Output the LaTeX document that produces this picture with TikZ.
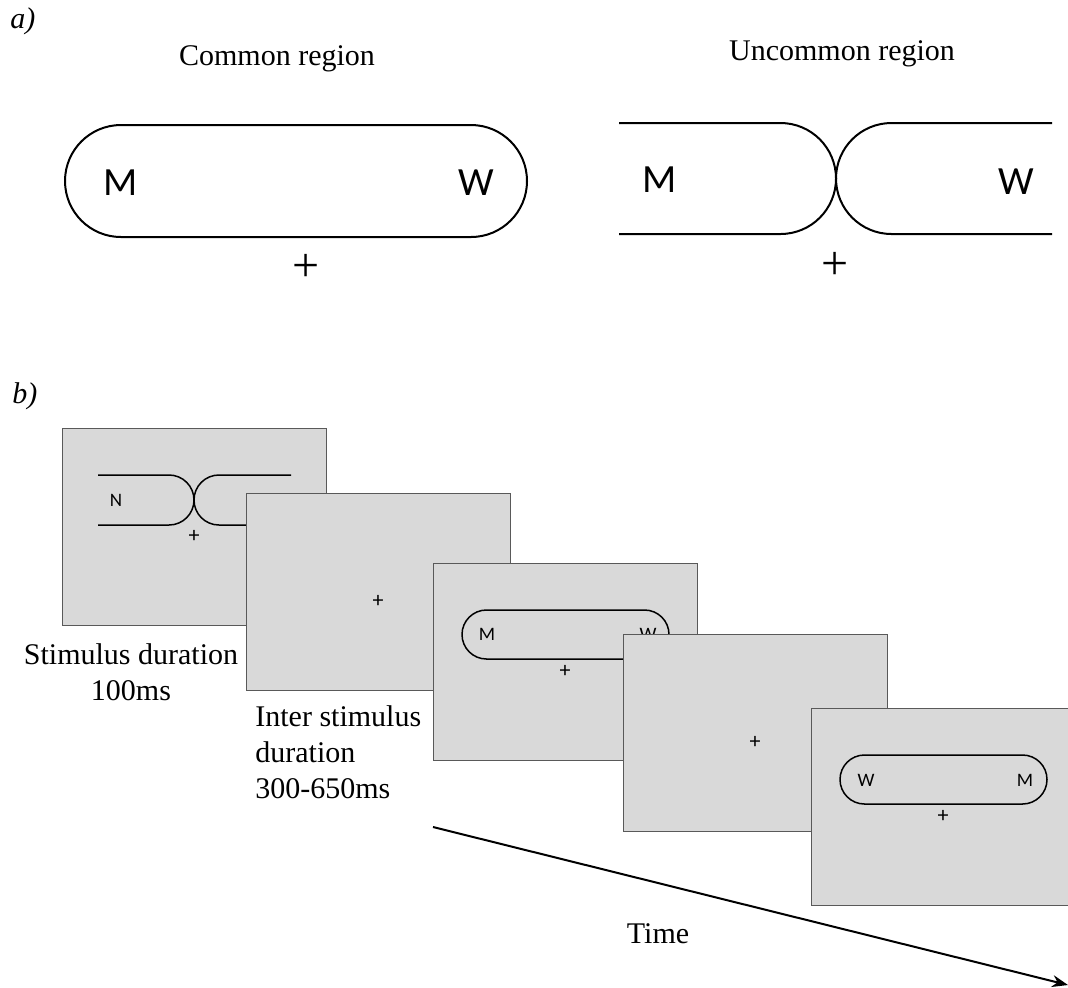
\documentclass[tikz,border=0pt]{standalone}
\usepackage{fontspec}
\setmainfont{Liberation Serif}
\newfontfamily\letterfont{Carlito}
\usetikzlibrary{arrows.meta}

\definecolor{panelgray}{HTML}{D9D9D9}
\definecolor{panelline}{HTML}{595959}

\tikzset{
  textlabel/.style={font=\fontsize{15}{18}\selectfont, inner sep=0pt},
  bigletter/.style={font=\letterfont\fontsize{20}{24}\selectfont, inner sep=0pt},
  smallletter/.style={font=\letterfont\fontsize{9.5}{11}\selectfont, inner sep=0pt},
  bigcross/.style={font=\fontsize{24}{24}\selectfont, inner sep=0pt},
  smallcross/.style={font=\letterfont\fontsize{11}{11}\selectfont, inner sep=0pt},
  screen/.style={draw=panelline, fill=panelgray, line width=0.6pt, anchor=north west,
    minimum width=132pt, minimum height=98.5pt, inner sep=0pt},
  region/.style={line width=1pt},
  smallregion/.style={line width=0.75pt},
}

\begin{document}
\begin{tikzpicture}[x=0.5pt, y=-0.5pt, >={Stealth[length=8pt, width=6pt]}]
    \useasboundingbox (0,0) rectangle (1068,987);

    % part a
    \node[textlabel, anchor=base west, font=\fontsize{15}{18}\selectfont\itshape] (parta) at (10,28) {a)};
    \node[textlabel, anchor=base] (common) at (277,65) {Common region};
    \node[textlabel, anchor=base] (uncommon) at (842,60) {Uncommon region};

    \draw[region, rounded corners=28pt] (65,125) rectangle (527,237);
    \node[bigletter] (cm) at (121,183) {M};
    \node[bigletter] (cw) at (476,183) {W};
    \node[bigcross] (cfix) at (306,268) {+};

    \draw[region] (619,123) -- (780.5,123) arc[start angle=90, end angle=-90, radius=27.75pt] -- (619,234);
    \draw[region] (1052,123) -- (891.5,123) arc[start angle=90, end angle=270, radius=27.75pt] -- (1052,234);
    \node[bigletter] (um) at (660,180) {M};
    \node[bigletter] (uw) at (1016,182) {W};
    \node[bigcross] (ufix) at (835,266) {+};

    % part b
    \node[textlabel, anchor=base west, font=\fontsize{15}{18}\selectfont\itshape] (partb) at (12,403) {b)};

    % screen 1: uncommon region
    \begin{scope}[shift={(62,428)}]
        \node[screen] (s1) at (0,0) {};
        \draw[smallregion] (36,47) -- (107,47) arc[start angle=90, end angle=-90, radius=12.5pt] -- (36,97);
        \draw[smallregion] (229,47) -- (157,47) arc[start angle=90, end angle=270, radius=12.5pt] -- (229,97);
        \node[smallletter] (s1n) at (54,72) {N};
        \node[smallletter] (s1w) at (215,72) {W};
        \node[smallcross] (s1fix) at (132,108) {+};
    \end{scope}

    % screen 2: blank
    \begin{scope}[shift={(246,493)}]
        \node[screen] (s2) at (0,0) {};
        \node[smallcross] (s2fix) at (132,108) {+};
    \end{scope}

    % screen 3: common region
    \begin{scope}[shift={(433,563)}]
        \node[screen] (s3) at (0,0) {};
        \draw[smallregion, rounded corners=12.25pt] (29,47) rectangle (236,96);
        \node[smallletter] (s3m) at (54,71) {M};
        \node[smallletter] (s3w) at (215,71) {W};
        \node[smallcross] (s3fix) at (132,108) {+};
    \end{scope}

    % screen 4: blank
    \begin{scope}[shift={(623,634)}]
        \node[screen] (s4) at (0,0) {};
        \node[smallcross] (s4fix) at (132,108) {+};
    \end{scope}

    % screen 5: common region, swapped
    \begin{scope}[shift={(811,708)}]
        \node[screen] (s5) at (0,0) {};
        \draw[smallregion, rounded corners=12.25pt] (29,47) rectangle (236,96);
        \node[smallletter] (s5w) at (55,72) {W};
        \node[smallletter] (s5m) at (214,72) {M};
        \node[smallcross] (s5fix) at (132,108) {+};
    \end{scope}

    \node[textlabel, align=center, anchor=base] (stimdur) at (131,700) {Stimulus duration\\100ms};
    \node[textlabel, align=left, anchor=north west] (isidur) at (255,705) {Inter stimulus\\duration\\300-650ms};

    \coordinate (tstart) at (433,827);
    \coordinate (tend) at (1068,985);
    \draw[->, line width=1pt] (tstart) -- (tend);
    \node[textlabel, anchor=base] (time) at (658,943) {Time};
\end{tikzpicture}
\end{document}
